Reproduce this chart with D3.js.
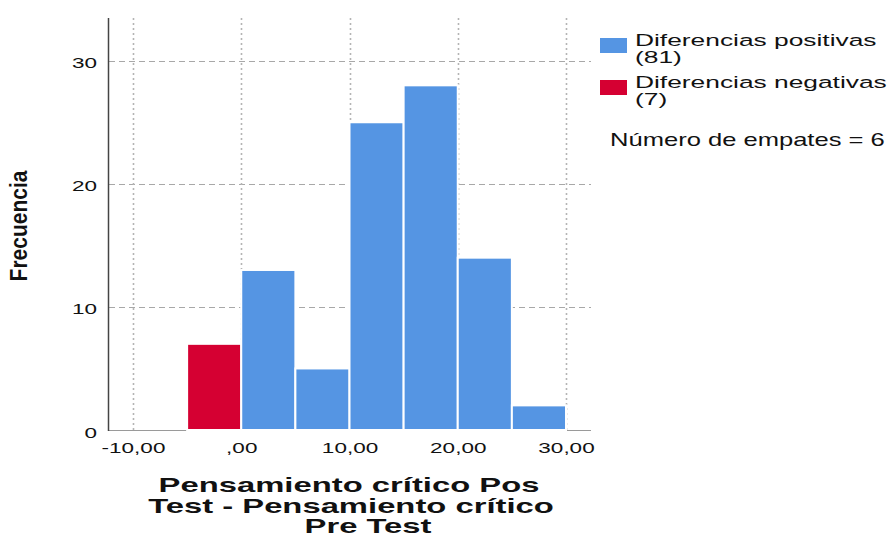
<!DOCTYPE html>
<html>
<head>
<meta charset="utf-8">
<script src="https://cdn.jsdelivr.net/npm/d3@7"></script>
<style>
  html, body { margin: 0; padding: 0; background: #ffffff; }
  svg { display: block; }
  text { font-family: "Liberation Sans", Arial, sans-serif; fill: #111; }
</style>
</head>
<body>
<script>
// ---- data ----
const binStart = [-10, -5, 0, 5, 10, 15, 20, 25];
const binEnd   = [-5, 0, 5, 10, 15, 20, 25, 30];
const negCounts = [0, 7, 0, 0, 0, 0, 0, 0];
const posCounts = [0, 0, 13, 5, 25, 28, 14, 2];
const xTickValues = [-10, 0, 10, 20, 30];
const xTickLabels = ["-10,00", ",00", "10,00", "20,00", "30,00"];
const yTickValues = [0, 10, 20, 30];
const yTickLabels = ["0", "10", "20", "30"];
const legendLabels = [["Diferencias positivas", "(81)"], ["Diferencias negativas", "(7)"]];
const legendColors = ["#5595e3", "#d50032"];
const tiesLabel = "Número de empates = 6";
const yTitle = "Frecuencia";
const xTitleLines = ["Pensamiento crítico Pos", "Test - Pensamiento crítico", "Pre Test"];

// ---- layout ----
const W = 889, H = 538;
const plot = { left: 108, right: 591, top: 18, bottom: 430 };
const SX = 1.5; // horizontal text stretch seen in the reference

const svg = d3.select("body").append("svg").attr("width", W).attr("height", H);

const x = d3.scaleLinear().domain([-12.31, 32.31]).range([plot.left, plot.right]);
const y = d3.scaleLinear().domain([0, 33.47]).range([plot.bottom, plot.top]);

// horizontal dashed gridlines (behind bars)
svg.append("g").selectAll("line").data(yTickValues.filter(v => v > 0)).join("line")
  .attr("x1", plot.left + 1).attr("x2", plot.right)
  .attr("y1", d => Math.round(y(d)) + 0.5).attr("y2", d => Math.round(y(d)) + 0.5)
  .attr("stroke", "#a8a8a8").attr("stroke-width", 1).attr("stroke-dasharray", "6,4");

// vertical dotted gridlines
svg.append("g").selectAll("line").data(xTickValues).join("line")
  .attr("x1", d => Math.round(x(d)) + 0.5).attr("x2", d => Math.round(x(d)) + 0.5)
  .attr("y1", plot.top).attr("y2", plot.bottom)
  .attr("stroke", "#b4b4b4").attr("stroke-width", 1.6).attr("stroke-dasharray", "2,3");

// bottom frame line
svg.append("line")
  .attr("x1", plot.left).attr("x2", plot.right)
  .attr("y1", plot.bottom + 0.5).attr("y2", plot.bottom + 0.5)
  .attr("stroke", "#9a9a9a").attr("stroke-width", 1);

// bars
const bars = binStart.map((s, i) => ({ s, e: binEnd[i], neg: negCounts[i], pos: posCounts[i] }));
const gBars = svg.append("g");
gBars.selectAll("rect.neg").data(bars.filter(d => d.neg > 0)).join("rect")
  .attr("class", "neg")
  .attr("x", d => x(d.s)).attr("width", d => x(d.e) - x(d.s))
  .attr("y", d => y(d.neg)).attr("height", d => y(0) - y(d.neg))
  .attr("fill", legendColors[1]).attr("stroke", "#fff").attr("stroke-width", 2);
gBars.selectAll("rect.pos").data(bars.filter(d => d.pos > 0)).join("rect")
  .attr("class", "pos")
  .attr("x", d => x(d.s)).attr("width", d => x(d.e) - x(d.s))
  .attr("y", d => y(d.pos)).attr("height", d => y(0) - y(d.pos))
  .attr("fill", legendColors[0]).attr("stroke", "#fff").attr("stroke-width", 2);

// left axis
const yAxis = d3.axisLeft(y).tickValues(yTickValues).tickSize(0)
  .tickFormat((d, i) => yTickLabels[i]);
const gy = svg.append("g").attr("transform", `translate(${plot.left},0)`).call(yAxis);
gy.select(".domain").remove();
gy.selectAll("text")
  .attr("x", null).attr("dy", "0.47em")
  .attr("transform", `translate(-11,0) scale(${SX},1)`)
  .style("font-size", "15px").style("fill", "#111");
svg.append("line")
  .attr("x1", plot.left + 0.5).attr("x2", plot.left + 0.5)
  .attr("y1", plot.top).attr("y2", plot.bottom + 1)
  .attr("stroke", "#444").attr("stroke-width", 1.5);

// bottom axis labels
const xAxis = d3.axisBottom(x).tickValues(xTickValues).tickSize(0)
  .tickFormat((d, i) => xTickLabels[i]);
const gx = svg.append("g").attr("transform", `translate(0,${plot.bottom})`).call(xAxis);
gx.select(".domain").remove();
gx.selectAll("text")
  .attr("y", null).attr("dy", null)
  .attr("transform", `translate(0,23) scale(${SX},1)`)
  .style("font-size", "15px").style("fill", "#111");

// y title
svg.append("text")
  .attr("transform", "translate(27,226) rotate(-90) scale(1,1.15)")
  .attr("text-anchor", "middle")
  .style("font-size", "21px").style("font-weight", "bold")
  .text(yTitle);

// x title
const titleX = [349, 351, 368];
const titleY = [492, 513, 533];
svg.append("g").selectAll("text").data(xTitleLines).join("text")
  .attr("transform", (d, i) => `translate(${titleX[i]},${titleY[i]}) scale(1.64,1)`)
  .attr("text-anchor", "middle")
  .style("font-size", "20px").style("font-weight", "bold")
  .text(d => d);

// legend
const lg = svg.append("g");
legendLabels.forEach((lines, i) => {
  const top = 38 + i * 42;
  lg.append("rect").attr("x", 600).attr("y", top).attr("width", 27).attr("height", 15)
    .attr("fill", legendColors[i]);
  lines.forEach((t, j) => {
    lg.append("text")
      .attr("transform", `translate(635,${top + 8 + j * 17}) scale(1.55,1)`)
      .style("font-size", "17px")
      .text(t);
  });
});
lg.append("text")
  .attr("transform", "translate(610,146) scale(1.42,1)")
  .style("font-size", "18px")
  .text(tiesLabel);
</script>
</body>
</html>
